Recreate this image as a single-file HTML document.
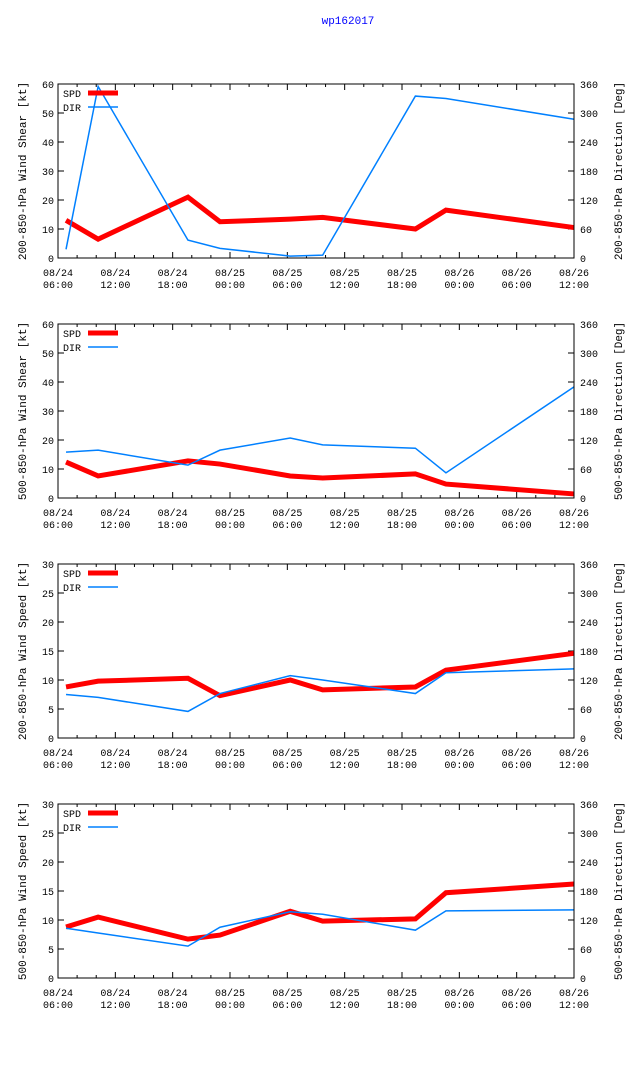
<!DOCTYPE html>
<html><head><meta charset="utf-8"><style>
body{margin:0;background:#fff;}
svg text{font-family:"Liberation Mono","DejaVu Sans Mono",monospace;font-size:10px;fill:#000;}
svg text.axt{font-size:11px;}
</style></head><body>
<svg id="chart" width="640" height="1060" xmlns="http://www.w3.org/2000/svg">
<rect width="640" height="1060" fill="#fff"/>
<text x="348" y="24" text-anchor="middle" style="fill:#0000ff;font-size:11px">wp162017</text>
</svg>
<script>
const hours = [0.84, 4.2, 13.6, 16.95, 24.3, 27.7, 37.4, 40.6, 54];
const xTickLabels1 = ["08/24","08/24","08/24","08/25","08/25","08/25","08/25","08/26","08/26","08/26"];
const xTickLabels2 = ["06:00","12:00","18:00","00:00","06:00","12:00","18:00","00:00","06:00","12:00"];
const spd1 = [13, 6.5, 21, 12.5, 13.4, 14, 10, 16.5, 10.5];
const dir1 = [18, 355, 37, 20, 4, 6, 335, 330, 287];
const spd2 = [12.4, 7.6, 12.8, 11.7, 7.6, 6.9, 8.3, 4.8, 1.4];
const dir2 = [95, 99, 68, 99, 124, 110, 103, 52, 230];
const spd3 = [8.8, 9.8, 10.3, 7.3, 10, 8.3, 8.8, 11.7, 14.6];
const dir3 = [90, 84, 55, 92, 129, 120, 92, 135, 143];
const spd4 = [8.8, 10.5, 6.7, 7.4, 11.5, 9.8, 10.2, 14.7, 16.2];
const dir4 = [103, 93, 66, 105, 137, 132, 99, 139, 141];
const leftTitles = ["200-850-hPa Wind Shear [kt]","500-850-hPa Wind Shear [kt]","200-850-hPa Wind Speed [kt]","500-850-hPa Wind Speed [kt]"];
const rightTitles = ["200-850-hPa Direction [Deg]","500-850-hPa Direction [Deg]","200-850-hPa Direction [Deg]","500-850-hPa Direction [Deg]"];
const leftMax = [60, 60, 30, 30];
const leftStep = [10, 10, 5, 5];
const dirTicks = [0, 60, 120, 180, 240, 300, 360];

const svg = document.getElementById('chart');
const NS = 'http://www.w3.org/2000/svg';
const X0 = 58, X1 = 574, HMAX = 54;
function mk(tag, attrs, parent){ const e=document.createElementNS(NS,tag); for(const k in attrs) e.setAttribute(k,attrs[k]); (parent||svg).appendChild(e); return e; }
function xs(h){ return X0 + (X1-X0)*h/HMAX; }

const tops = [84, 324, 564, 804];
const spds = [spd1, spd2, spd3, spd4];
const dirs = [dir1, dir2, dir3, dir4];
tops.forEach((top, p) => {
  const bot = top + 174;
  const g = mk('g', {});
  
  
  const yl = v => bot - (bot-top)*v/leftMax[p];
  const yr = v => bot - (bot-top)*v/360;
  for (let h=0; h<=HMAX; h+=2) {
    const len = h%6===0 ? 6 : 3;
    mk('line',{x1:xs(h),x2:xs(h),y1:bot,y2:bot-len,stroke:'#000','stroke-width':1},g);
    mk('line',{x1:xs(h),x2:xs(h),y1:top,y2:top+len,stroke:'#000','stroke-width':1},g);
  }
  for (let i=0;i<xTickLabels1.length;i++){
    const x = xs(i*6);
    const t1 = mk('text',{x:x,y:bot+18,'text-anchor':'middle'},g); t1.textContent = xTickLabels1[i];
    
    
    const t2 = mk('text',{x:x,y:bot+30,'text-anchor':'middle'},g); t2.textContent = xTickLabels2[i];
  }
  for (let v=0; v<=leftMax[p]; v+=leftStep[p]) {
    const y = yl(v);
    mk('line',{x1:X0,x2:X0+6,y1:y,y2:y,stroke:'#000'},g);
    const t = mk('text',{x:X0-4,y:y+4,'text-anchor':'end'},g); t.textContent = v;
    
    
  }
  dirTicks.forEach(v => {
    const y = yr(v);
    mk('line',{x1:X1-6,x2:X1,y1:y,y2:y,stroke:'#000'},g);
    const t = mk('text',{x:X1+6,y:y+4},g); t.textContent = v;
  });
  const lt = mk('text',{class:'axt',transform:`translate(26,${(top+bot)/2}) rotate(-90)`,'text-anchor':'middle'},g);
  lt.textContent = leftTitles[p];
  
  
  const rt = mk('text',{class:'axt',transform:`translate(622,${(top+bot)/2}) rotate(-90)`,'text-anchor':'middle'},g);
  rt.textContent = rightTitles[p];
  
  
  const sp = mk('polyline',{points:hours.map((h,i)=>xs(h)+','+yl(spds[p][i])).join(' '),fill:'none',stroke:'#ff0000','stroke-width':5,'stroke-linejoin':'miter'},g);
  
  
  const dl = mk('polyline',{points:hours.map((h,i)=>xs(h)+','+yr(dirs[p][i])).join(' '),fill:'none',stroke:'#0080ff','stroke-width':1.5},g);
  
  
  const t1 = mk('text',{x:63,y:top+13},g); t1.textContent='SPD';
  
  
  mk('line',{x1:88,x2:118,y1:top+9,y2:top+9,stroke:'#ff0000','stroke-width':5},g);
  const t2 = mk('text',{x:63,y:top+27},g); t2.textContent='DIR';
  
  
  mk('line',{x1:88,x2:118,y1:top+23,y2:top+23,stroke:'#0080ff','stroke-width':1.5},g);
  mk('rect',{x:X0,y:top,width:X1-X0,height:bot-top,fill:'none',stroke:'#000','stroke-width':1},g);
});
</script>
</body></html>
